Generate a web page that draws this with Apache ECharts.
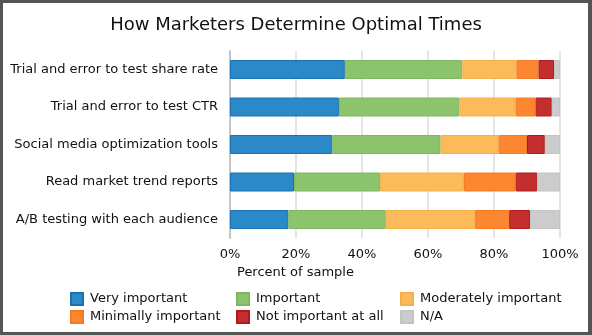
<!DOCTYPE html>
<html><head><meta charset="utf-8">
<script src="https://cdn.jsdelivr.net/npm/echarts@6/dist/echarts.min.js"></script>
<style>html,body{margin:0;padding:0;background:#fff}#wrap{position:relative;width:592px;height:335px}#c{width:592px;height:335px}#frame{position:absolute;left:0;top:0;width:592px;height:335px;box-sizing:border-box;border:3px solid #555;border-right-width:4px;pointer-events:none}</style>
</head><body><div id="wrap"><div id="c"></div><div id="frame"></div></div>
<script>
var categories = ["Trial and error to test share rate","Trial and error to test CTR","Social media optimization tools","Read market trend reports","A/B testing with each audience"];
var seriesNames = ["Very important","Important","Moderately important","Minimally important","Not important at all","N/A"];
var veryImportant = [34.8, 33.0, 31.0, 19.4, 17.7];
var important = [35.6, 36.5, 32.8, 26.1, 29.5];
var moderatelyImportant = [16.4, 17.1, 17.6, 25.4, 27.1];
var minimallyImportant = [6.7, 6.0, 8.6, 15.7, 10.3];
var notImportant = [4.7, 4.9, 5.4, 6.5, 6.3];
var na = [1.8, 2.5, 4.6, 6.9, 9.1];
var xTicks = [0, 20, 40, 60, 80, 100];

var values = [veryImportant, important, moderatelyImportant, minimallyImportant, notImportant, na];
var colors = ["#2b89c8","#8cc46e","#fbbb5b","#fd8630","#c32f2f","#cccccc"];
var borders = ["#1b6fb3","#7db85f","#f5b04c","#f67a22","#b3191c","#c4c4c4"];
var font = "DejaVu Sans, Verdana, sans-serif";

var chart = echarts.init(document.getElementById('c'), null, {renderer:'canvas'});
var series = seriesNames.map(function(n,i){
  return {name:n, type:'bar', stack:'a', data:values[i], barWidth:19,
    itemStyle:{color:colors[i], borderColor:borders[i], borderWidth:1}};
});
function legendCol(names, left){
  return {orient:'vertical', left:left, top:292, padding:0, itemWidth:12, itemHeight:12, itemGap:4, icon:'rect',
    data:names.map(function(n){return {name:n};}), selectedMode:false,
    textStyle:{fontFamily:font, fontSize:13, color:'#111', padding:[0,0,0,2]}};
}
chart.setOption({
  animation:false,
  title:[{text:"How Marketers Determine Optimal Times", left:'center', top:11,
    textStyle:{fontFamily:font, fontSize:18, fontWeight:'normal', color:'#111'}},
    {text:"Percent of sample", left:232, top:261, textStyle:{fontFamily:font, fontSize:13, fontWeight:'normal', color:'#111'}}],
  legend:[legendCol([seriesNames[0],seriesNames[3]], 70), legendCol([seriesNames[1],seriesNames[4]], 236), legendCol([seriesNames[2],seriesNames[5]], 400)],
  grid:{left:230, right:32, top:50.75, height:187.5, containLabel:false},
  xAxis:{type:'value', min:xTicks[0], max:xTicks[xTicks.length-1], interval:20,
    axisLine:{show:false}, axisTick:{show:false},
    splitLine:{show:true, lineStyle:{color:'#dddddd', width:1.5}},
    axisLabel:{margin:10, fontFamily:font, fontSize:13, color:'#111', formatter:'{value}%'}},
  yAxis:{type:'category', data:categories, inverse:true,
    axisLine:{show:true, lineStyle:{color:'#bbbbbb', width:1.5}}, axisTick:{show:false},
    axisLabel:{margin:12, fontFamily:font, fontSize:13, color:'#111'}},
  series:series
});
</script></body></html>
